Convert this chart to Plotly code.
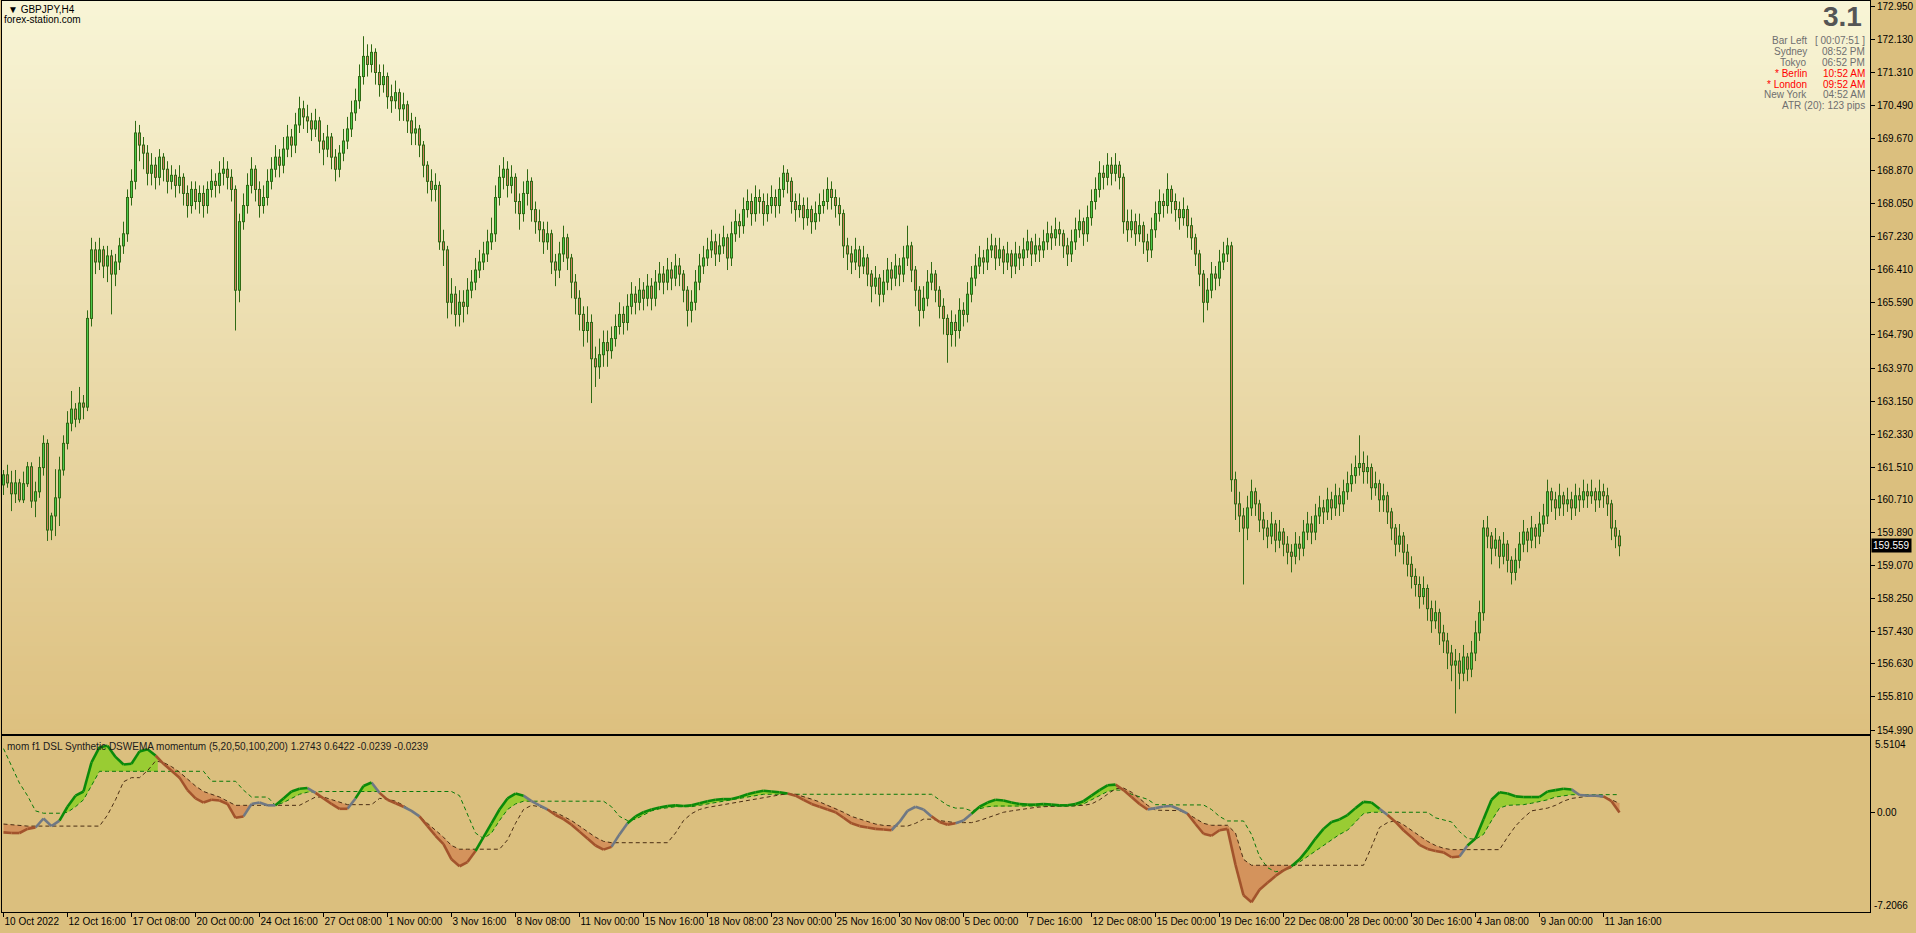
import plotly.graph_objects as go

# ---------------- data ----------------
tick_bar = [0, 16, 32, 48, 64, 80, 96, 112, 128, 144, 160, 176, 192, 208, 224,
            240, 256, 272, 288, 304, 320, 336, 352, 368, 384, 400]
tick_text = ["10 Oct 2022", "12 Oct 16:00", "17 Oct 08:00", "20 Oct 00:00", "24 Oct 16:00",
             "27 Oct 08:00", "1 Nov 00:00", "3 Nov 16:00", "8 Nov 08:00", "11 Nov 00:00",
             "15 Nov 16:00", "18 Nov 08:00", "23 Nov 00:00", "25 Nov 16:00", "30 Nov 08:00",
             "5 Dec 00:00", "7 Dec 16:00", "12 Dec 08:00", "15 Dec 00:00", "19 Dec 16:00",
             "22 Dec 08:00", "28 Dec 00:00", "30 Dec 16:00", "4 Jan 08:00", "9 Jan 00:00",
             "11 Jan 16:00"]

price_ticks = [172.95, 172.13, 171.31, 170.49, 169.67, 168.87, 168.05, 167.23, 166.41,
               165.59, 164.79, 163.97, 163.15, 162.33, 161.51, 160.71, 159.89, 159.07,
               158.25, 157.43, 156.63, 155.81, 154.99]
last_price = 159.559

first_open = 161.07
closes = [
    161.32, 161.12, 160.85, 161.12, 160.70, 161.10, 161.52, 160.67, 160.90, 161.50,
    162.10, 159.95, 160.30, 160.75, 161.44, 162.10, 162.60, 162.95, 162.70, 163.10,
    163.00, 165.20, 166.90, 166.60, 166.90, 166.50, 166.75, 166.30, 166.60, 167.00,
    167.30, 168.20, 168.60, 169.80, 169.50, 169.30, 168.80, 169.00, 168.70, 169.20,
    168.90, 168.60, 168.75, 168.50, 168.70, 168.30, 168.00, 168.40, 168.10, 168.30,
    168.00, 168.40, 168.60, 168.50, 168.80, 168.90, 168.70, 168.40, 165.90, 167.60,
    168.00, 168.50, 168.90, 168.40, 168.00, 168.20, 168.60, 168.90, 169.20, 169.00,
    169.40, 169.70, 169.50, 170.00, 170.40, 170.20, 170.10, 169.90, 170.10, 169.60,
    169.40, 169.70, 169.20, 168.90, 169.30, 169.60, 169.90, 170.30, 170.60, 171.20,
    171.70, 171.50, 171.80, 171.30, 171.00, 171.20, 170.70, 170.60, 170.80, 170.40,
    170.50, 170.10, 169.80, 169.90, 169.50, 169.00, 168.60, 168.40, 168.50, 167.10,
    166.90, 165.60, 165.80, 165.30, 165.60, 165.50, 165.90, 166.10, 166.40, 166.60,
    166.80, 167.10, 167.30, 168.20, 168.70, 168.90, 168.50, 168.70, 168.10, 167.80,
    168.30, 168.60, 167.90, 167.60, 167.40, 167.10, 167.30, 166.60, 166.40, 166.80,
    167.20, 166.70, 166.10, 165.70, 165.30, 164.90, 165.10, 164.20, 164.00, 164.30,
    164.60, 164.40, 164.70, 165.00, 165.30, 165.10, 165.50, 165.80, 165.60, 165.90,
    165.70, 166.00, 165.70, 166.10, 166.30, 166.10, 166.40, 166.20, 166.50, 166.30,
    165.90, 165.40, 165.60, 166.10, 166.50, 166.70, 166.90, 167.10, 166.80, 167.00,
    167.20, 166.70, 167.30, 167.60, 167.50, 167.90, 168.10, 167.80, 168.20, 168.10,
    167.80, 168.00, 168.20, 168.00, 168.40, 168.80, 168.60, 168.10, 167.90, 168.00,
    167.70, 167.90, 167.60, 167.80, 168.00, 168.10, 168.40, 168.20, 168.00, 167.80,
    167.00, 166.80, 166.60, 166.90, 166.50, 166.70, 166.30, 166.00, 166.20, 165.80,
    166.10, 166.40, 166.20, 166.50, 166.30, 166.70, 167.00, 166.40, 165.90, 165.40,
    165.70, 166.10, 166.30, 165.90, 165.50, 165.20, 164.80, 165.10, 164.90, 165.40,
    165.30, 165.80, 166.20, 166.50, 166.70, 166.60, 166.90, 167.00, 166.70, 166.90,
    166.60, 166.80, 166.50, 166.80, 166.70, 166.90, 167.10, 166.80, 167.00, 166.90,
    167.10, 167.30, 167.20, 167.40, 167.30, 167.00, 166.80, 167.10, 167.40, 167.60,
    167.30, 167.70, 168.10, 168.40, 168.80, 168.70, 169.00, 168.80, 169.00, 168.70,
    167.60, 167.40, 167.60, 167.30, 167.50, 167.10, 166.90, 167.40, 167.80, 168.10,
    168.00, 168.40, 168.10, 167.90, 167.70, 167.90, 167.50, 167.20, 166.80, 166.30,
    165.60, 165.90, 166.30, 166.20, 166.60, 166.80, 167.00, 161.20, 160.60, 160.30,
    160.00, 160.50, 160.90, 160.60, 160.20, 160.00, 159.80, 160.10, 159.70, 159.90,
    159.60, 159.40, 159.30, 159.60, 159.50, 159.90, 160.10, 159.90, 160.30, 160.50,
    160.40, 160.70, 160.50, 160.80, 160.60, 160.90, 161.10, 161.30, 161.50, 161.60,
    161.40, 161.50, 161.00, 161.10, 160.70, 160.80, 160.40, 160.00, 159.60, 159.80,
    159.40, 159.10, 158.80, 158.60, 158.30, 158.50, 158.00, 157.70, 157.90, 157.40,
    157.20, 156.90, 156.60, 156.70, 156.40, 156.80, 156.50, 156.90, 157.40, 157.90,
    160.00, 159.80, 159.50, 159.70, 159.30, 159.60, 159.20, 158.90, 159.20, 159.60,
    159.90, 159.70, 160.00, 159.80, 160.10, 160.30, 160.90, 160.70, 160.50, 160.80,
    160.60, 160.70, 160.50, 160.80, 160.70, 160.90, 160.80, 160.90, 160.70, 160.90,
    160.80, 160.60, 160.00, 159.80, 159.56]
highs = [
    161.44, 161.57, 161.42, 161.44, 161.22, 161.40, 161.64, 161.63, 161.15, 161.77,
    162.30, 162.20, 160.38, 161.46, 161.77, 162.30, 162.90, 163.40, 163.10, 163.50,
    163.30, 165.40, 167.20, 167.10, 167.20, 167.00, 167.00, 166.90, 166.80, 167.20,
    167.60, 168.40, 168.90, 170.10, 170.00, 169.70, 169.50, 169.30, 169.20, 169.40,
    169.30, 169.10, 169.00, 168.90, 169.00, 168.80, 168.50, 168.60, 168.60, 168.50,
    168.50, 168.60, 168.90, 168.80, 169.10, 169.20, 169.10, 168.90, 168.50, 167.80,
    168.30, 168.80, 169.20, 169.00, 168.60, 168.50, 168.90, 169.20, 169.50, 169.40,
    169.70, 170.00, 169.90, 170.30, 170.70, 170.60, 170.50, 170.30, 170.40, 170.20,
    169.80, 170.00, 169.80, 169.40, 169.50, 169.90, 170.20, 170.60, 170.90, 171.50,
    172.20, 172.00, 172.00, 171.90, 171.50, 171.50, 171.30, 171.00, 171.10, 170.90,
    170.80, 170.60, 170.30, 170.20, 170.00, 169.60, 169.10, 168.90, 168.80, 168.60,
    167.40, 167.00, 166.20, 166.00, 165.90, 165.90, 166.20, 166.40, 166.70, 166.90,
    167.10, 167.40, 167.70, 168.50, 169.00, 169.20, 169.10, 169.00, 168.80, 168.30,
    168.60, 168.90, 168.70, 168.10, 167.90, 167.60, 167.60, 167.40, 166.80, 167.10,
    167.50, 167.30, 166.80, 166.30, 165.90, 165.50, 165.50, 165.30, 164.50, 164.70,
    164.90, 164.90, 165.00, 165.30, 165.60, 165.50, 165.80, 166.10, 166.00, 166.20,
    166.10, 166.30, 166.20, 166.40, 166.60, 166.50, 166.70, 166.60, 166.80, 166.70,
    166.40, 166.00, 165.90, 166.40, 166.80, 167.00, 167.20, 167.40, 167.30, 167.30,
    167.50, 167.30, 167.60, 167.90, 167.80, 168.20, 168.40, 168.30, 168.50, 168.40,
    168.30, 168.30, 168.50, 168.40, 168.70, 169.00, 168.90, 168.70, 168.30, 168.30,
    168.20, 168.20, 168.00, 168.10, 168.30, 168.40, 168.70, 168.60, 168.40, 168.20,
    167.90, 167.20, 167.00, 167.20, 167.00, 167.00, 166.80, 166.40, 166.50, 166.30,
    166.40, 166.70, 166.60, 166.80, 166.70, 167.00, 167.50, 167.10, 166.50, 166.00,
    166.00, 166.40, 166.60, 166.40, 166.00, 165.70, 165.30, 165.40, 165.30, 165.70,
    165.60, 166.10, 166.50, 166.80, 167.00, 166.90, 167.20, 167.30, 167.20, 167.20,
    167.00, 167.10, 166.90, 167.10, 167.00, 167.20, 167.40, 167.20, 167.30, 167.20,
    167.40, 167.60, 167.50, 167.70, 167.60, 167.40, 167.20, 167.40, 167.70, 167.90,
    167.70, 168.00, 168.40, 168.70, 169.10, 169.00, 169.30, 169.20, 169.30, 169.10,
    168.80, 167.90, 167.90, 167.80, 167.80, 167.60, 167.30, 167.70, 168.10, 168.40,
    168.30, 168.80, 168.50, 168.30, 168.10, 168.20, 168.00, 167.70, 167.30, 166.90,
    166.40, 166.20, 166.60, 166.50, 166.90, 167.10, 167.20, 167.10, 161.40, 160.90,
    160.50, 160.80, 161.20, 161.00, 160.70, 160.40, 160.20, 160.40, 160.20, 160.20,
    160.00, 159.80, 159.60, 159.90, 159.80, 160.20, 160.40, 160.30, 160.60, 160.80,
    160.70, 161.00, 160.90, 161.10, 161.00, 161.20, 161.40, 161.60, 161.80, 162.30,
    161.90, 161.80, 161.60, 161.40, 161.20, 161.10, 160.90, 160.50, 160.10, 160.10,
    159.90, 159.60, 159.30, 159.00, 158.80, 158.80, 158.60, 158.20, 158.20, 158.00,
    157.60, 157.40, 157.10, 157.00, 156.90, 157.10, 156.90, 157.20, 157.70, 158.20,
    160.20, 160.30, 159.90, 160.00, 159.80, 159.90, 159.70, 159.30, 159.50, 159.90,
    160.20, 160.00, 160.30, 160.10, 160.40, 160.60, 161.20, 161.00, 160.90, 161.10,
    160.90, 161.00, 160.90, 161.10, 161.00, 161.20, 161.10, 161.20, 161.00, 161.20,
    161.10, 161.00, 160.70, 160.20, 159.95]
lows = [
    160.82, 161.00, 160.42, 160.62, 160.64, 160.62, 161.02, 160.50, 160.27, 160.75,
    161.30, 159.68, 159.70, 159.80, 160.05, 161.30, 161.95, 162.40, 162.50, 162.60,
    162.70, 162.90, 165.00, 166.30, 166.40, 166.20, 166.10, 165.30, 166.00, 166.40,
    166.80, 167.10, 168.00, 168.40, 169.10, 168.90, 168.50, 168.50, 168.40, 168.50,
    168.60, 168.30, 168.40, 168.20, 168.30, 168.00, 167.70, 167.80, 167.90, 167.80,
    167.70, 167.80, 168.20, 168.20, 168.30, 168.50, 168.40, 168.10, 164.90, 165.60,
    167.40, 167.80, 168.30, 168.10, 167.70, 167.80, 168.00, 168.40, 168.70, 168.70,
    168.80, 169.20, 169.20, 169.30, 169.80, 169.90, 169.80, 169.60, 169.70, 169.30,
    169.00, 169.20, 168.90, 168.60, 168.70, 169.10, 169.40, 169.70, 170.10, 170.40,
    171.00, 171.20, 171.30, 171.00, 170.70, 170.80, 170.40, 170.30, 170.40, 170.10,
    170.10, 169.80, 169.50, 169.50, 169.20, 168.70, 168.30, 168.10, 168.10, 166.90,
    166.50, 165.20, 165.30, 165.00, 165.00, 165.10, 165.30, 165.70, 165.90, 166.20,
    166.40, 166.60, 166.90, 167.10, 168.00, 168.40, 168.20, 168.30, 167.80, 167.40,
    167.60, 168.00, 167.60, 167.30, 167.10, 166.80, 166.90, 166.30, 166.00, 166.20,
    166.60, 166.40, 165.70, 165.30, 164.90, 164.50, 164.60, 163.10, 163.50, 163.70,
    164.00, 164.00, 164.20, 164.50, 164.80, 164.80, 164.90, 165.30, 165.30, 165.40,
    165.40, 165.50, 165.40, 165.50, 165.90, 165.80, 165.90, 165.90, 166.00, 166.00,
    165.60, 165.00, 165.10, 165.40, 165.90, 166.30, 166.50, 166.70, 166.50, 166.60,
    166.80, 166.40, 166.50, 167.10, 167.20, 167.30, 167.70, 167.50, 167.60, 167.80,
    167.50, 167.60, 167.80, 167.70, 167.80, 168.20, 168.30, 167.80, 167.60, 167.70,
    167.40, 167.50, 167.30, 167.40, 167.60, 167.80, 167.90, 167.90, 167.70, 167.50,
    166.70, 166.40, 166.30, 166.40, 166.20, 166.30, 166.00, 165.60, 165.80, 165.50,
    165.60, 165.90, 165.90, 166.00, 166.00, 166.10, 166.50, 166.10, 165.50, 165.00,
    165.20, 165.50, 165.90, 165.60, 165.20, 164.80, 164.10, 164.50, 164.50, 164.70,
    165.00, 165.10, 165.60, 166.00, 166.30, 166.30, 166.40, 166.70, 166.40, 166.50,
    166.30, 166.40, 166.20, 166.30, 166.40, 166.50, 166.70, 166.50, 166.60, 166.60,
    166.70, 166.90, 166.90, 167.00, 167.00, 166.70, 166.50, 166.60, 166.90, 167.20,
    167.00, 167.10, 167.50, 167.90, 168.20, 168.40, 168.50, 168.50, 168.60, 168.40,
    167.30, 167.10, 167.20, 167.00, 167.10, 166.80, 166.60, 166.70, 167.20, 167.60,
    167.70, 167.80, 167.80, 167.60, 167.40, 167.50, 167.20, 166.90, 166.50, 166.00,
    165.10, 165.40, 165.70, 165.90, 166.00, 166.40, 166.60, 160.90, 160.20, 159.90,
    158.60, 159.70, 160.30, 160.30, 159.90, 159.70, 159.50, 159.60, 159.40, 159.50,
    159.30, 159.10, 158.90, 159.10, 159.20, 159.30, 159.70, 159.60, 159.70, 160.10,
    160.10, 160.20, 160.20, 160.30, 160.30, 160.40, 160.70, 160.90, 161.10, 161.30,
    161.10, 161.10, 160.70, 160.80, 160.40, 160.40, 160.10, 159.70, 159.30, 159.40,
    159.10, 158.80, 158.50, 158.30, 158.00, 158.10, 157.70, 157.40, 157.50, 157.10,
    156.90, 156.50, 156.20, 155.40, 156.00, 156.20, 156.20, 156.30, 156.70, 157.20,
    157.70, 159.50, 159.10, 159.30, 159.00, 159.10, 158.90, 158.60, 158.70, 159.00,
    159.40, 159.40, 159.50, 159.50, 159.60, 159.90, 160.10, 160.40, 160.20, 160.30,
    160.30, 160.40, 160.20, 160.30, 160.40, 160.50, 160.50, 160.60, 160.40, 160.50,
    160.50, 160.30, 159.70, 159.50, 159.30]

# indicator, sampled every 2nd bar (bars 0,2,...,404)
mom_value = [
    -1.45, -1.5, -1.5, -1.2, -1.1, -0.45, -1.0, -0.6, 0.4, 1.2,
    1.5, 3.6, 4.7, 4.8, 4.0, 3.45, 3.5, 4.4, 4.55, 4.1,
    3.5, 3.0, 2.5, 1.6, 1.0, 0.7, 0.9, 0.85, 0.6, -0.4,
    -0.3, 0.6, 0.7, 0.5, 0.5, 1.0, 1.5, 1.7, 1.75, 1.4,
    1.0, 0.6, 0.25, 0.25, 1.0, 1.9, 2.15, 1.4, 0.9, 0.65,
    0.4, 0.1, -0.3, -1.0, -1.7, -2.3, -3.4, -3.9, -3.6, -2.8,
    -1.8, -0.8, 0.2, 1.0, 1.35, 1.2, 0.8, 0.5, 0.2, -0.2,
    -0.5, -0.9, -1.4, -1.9, -2.4, -2.7, -2.5, -1.6, -0.8, -0.3,
    0.0, 0.2, 0.35, 0.45, 0.5, 0.45, 0.5, 0.65, 0.8, 0.9,
    0.95, 0.95, 1.1, 1.3, 1.45, 1.55, 1.5, 1.45, 1.35, 1.2,
    0.9, 0.6, 0.4, 0.2, 0.0, -0.4, -0.8, -1.0, -1.1, -1.2,
    -1.25, -1.3, -0.7, 0.1, 0.4, 0.2, -0.3, -0.7, -0.9, -0.8,
    -0.6, -0.1, 0.4, 0.7, 0.9, 0.85, 0.7, 0.6, 0.55, 0.55,
    0.6, 0.55, 0.5, 0.5, 0.6, 0.8, 1.2, 1.6, 1.95, 2.0,
    1.6, 1.1, 0.6, 0.2, 0.3, 0.42, 0.45, 0.2, -0.1, -0.85,
    -1.55, -1.7, -1.3, -1.2, -3.8, -6.0, -6.5, -5.6, -5.1, -4.6,
    -4.2, -3.9, -3.4, -2.7, -1.9, -1.2, -0.7, -0.52, -0.2, 0.3,
    0.75, 0.7, 0.25, -0.2, -0.7, -1.3, -1.8, -2.35, -2.65, -2.8,
    -2.9, -3.25, -3.2, -2.4, -1.9, -0.5, 0.9, 1.45, 1.35, 1.15,
    1.1, 1.1, 1.1, 1.5, 1.6, 1.7, 1.65, 1.25, 1.2, 1.2,
    1.15, 0.8, -0.02]
level_up = [
    4.6, 3.3, 2.1, 1.2, 0.1, -0.07, -0.07, -0.07, 0.0, 0.4,
    0.9, 1.9, 2.96, 2.96, 2.96, 2.96, 2.96, 2.96, 2.96, 2.96,
    2.96, 2.96, 2.96, 2.96, 2.96, 2.96, 2.24, 2.24, 2.24, 2.24,
    1.6, 1.1, 1.1, 1.1, 0.5, 0.7, 1.0, 1.3, 1.45, 1.5,
    1.5, 1.5, 1.5, 1.5, 1.5, 1.5, 1.5, 1.5, 1.5, 1.5,
    1.5, 1.5, 1.5, 1.5, 1.5, 1.5, 1.5, 1.2, -0.2, -1.5,
    -1.9, -1.5, -0.6, 0.2, 0.6, 0.8, 0.8, 0.8, 0.8, 0.8,
    0.8, 0.8, 0.8, 0.8, 0.8, 0.8, 0.4, -0.3, -0.6, -0.5,
    -0.2, 0.1, 0.25, 0.35, 0.4, 0.4, 0.4, 0.5, 0.6, 0.7,
    0.8, 0.85, 0.95, 1.1, 1.2, 1.3, 1.3, 1.3, 1.3, 1.3,
    1.3, 1.3, 1.3, 1.3, 1.3, 1.3, 1.3, 1.3, 1.3, 1.3,
    1.3, 1.3, 1.3, 1.3, 1.3, 1.3, 1.3, 0.9, 0.5, 0.3,
    0.3, 0.1, 0.25, 0.4, 0.45, 0.45, 0.45, 0.45, 0.45, 0.45,
    0.45, 0.45, 0.45, 0.45, 0.45, 0.6, 0.9, 1.2, 1.5, 1.6,
    1.6, 1.3, 1.1, 0.94, 0.55, 0.53, 0.53, 0.53, 0.53, 0.53,
    0.53, 0.2, -0.3, -0.63, -0.63, -0.63, -1.6, -3.2, -4.0, -4.3,
    -4.2, -4.0, -3.6, -3.2, -2.8, -2.4, -2.0, -1.6, -1.3, -0.7,
    -0.1, 0.0, 0.0, 0.0, 0.0, 0.0, 0.0, 0.0, 0.0, -0.4,
    -0.55, -0.7, -1.4, -1.9, -1.95, -1.6, -0.6, 0.3, 0.5, 0.5,
    0.55, 0.65, 0.75, 0.9, 1.1, 1.2, 1.27, 1.27, 1.27, 1.27,
    1.27, 1.27, 1.2743]
level_dn = [
    -0.85, -0.9, -1.0, -1.0, -1.0, -1.0, -1.0, -1.0, -1.0, -1.0,
    -1.0, -1.0, -1.0, -0.2, 0.9, 2.2, 2.5, 2.5, 3.0, 3.7,
    3.6, 3.3, 2.9, 2.4, 1.9, 1.5, 1.3, 1.1, 0.8, 0.5,
    0.5, 0.5, 0.5, 0.5, 0.5, 0.5, 0.5, 0.5, 0.8, 1.1,
    1.1, 0.9, 0.7, 0.55, 0.55, 0.55, 0.55, 1.0, 0.95, 0.8,
    0.5, 0.1, -0.3, -0.8, -1.3, -1.8, -2.4, -2.67, -2.67, -2.67,
    -2.67, -2.67, -2.67, -2.0, -0.8, 0.2, 0.5, 0.4, 0.2, 0.0,
    -0.3, -0.6, -1.0, -1.4, -1.8, -2.1, -2.2, -2.2, -2.2, -2.2,
    -2.2, -2.2, -2.2, -2.2, -1.5, -0.6, -0.1, 0.2, 0.35, 0.45,
    0.6, 0.7, 0.8, 0.9, 1.0, 1.1, 1.2, 1.3, 1.35, 1.3,
    1.15, 0.95, 0.75, 0.5, 0.3, 0.0, -0.3, -0.5, -0.7, -0.85,
    -0.95, -1.0, -1.0, -1.0, -0.8, -0.5, -0.5, -0.6, -0.7, -0.75,
    -0.75, -0.75, -0.6, -0.4, -0.2, 0.0, 0.1, 0.2, 0.3, 0.35,
    0.4, 0.45, 0.45, 0.45, 0.45, 0.5, 0.6, 0.9, 1.3, 1.7,
    1.75, 1.45, 1.0, 0.5, 0.15, 0.15, 0.15, 0.12, -0.1, -0.45,
    -0.8, -0.94, -0.94, -0.94, -1.5, -3.4, -3.83, -3.83, -3.83, -3.83,
    -3.83, -3.83, -3.83, -3.83, -3.83, -3.83, -3.83, -3.83, -3.83, -3.83,
    -3.83, -2.5, -1.1, -0.75, -0.6, -0.9, -1.3, -1.7, -2.1, -2.4,
    -2.6, -2.7, -2.7, -2.7, -2.7, -2.7, -2.7, -2.7, -1.8, -1.0,
    -0.4, 0.1, 0.2, 0.3, 0.5, 0.8, 1.0, 1.1, 1.15, 1.15,
    1.1, 0.9, 0.6422]
ind_label = "mom f1 DSL Synthetic DSWEMA momentum (5,20,50,100,200) 1.2743 0.6422 -0.0239 -0.0239"
ind_max, ind_min = 5.5104, -7.2066

info_rows = [("Bar Left", "[ 00:07:51 ]", "#6f6f6f"), ("Sydney", "08:52 PM", "#6f6f6f"),
             ("Tokyo", "06:52 PM", "#6f6f6f"), ("* Berlin", "10:52 AM", "#ff0000"),
             ("* London", "09:52 AM", "#ff0000"), ("New York", "04:52 AM", "#6f6f6f")]

n = len(closes)
assert len(highs) == n and len(lows) == n
opens = [first_open] + closes[:-1]
bars = list(range(n))
ind_x = list(range(0, n, 2))
assert len(mom_value) == len(ind_x) == len(level_up) == len(level_dn)

# ---------------- geometry / style ----------------
W, H = 1916, 933
PL, PR, PT, PB = 2, 1870, 1, 912
MAIN_BOTTOM, SUB_TOP = 734, 736
FONT = "Liberation Sans, Arial, sans-serif"
TAN = "#dbbf7e"
WICK = "#2f6a14"
UP_FILL = "#4cc84a"
DN_FILL = "#d07c5c"
G_LINE, B_LINE, N_LINE = "#0a8a0a", "#a2532c", "#6f7884"
G_FILL, B_FILL = "#99cc33", "#d4935c"
UP_DASH, DN_DASH = "#0a7a0a", "#4a2e14"


def fx(px):
    return (px - PL) / (PR - PL)


def fy(py):
    return (PB - py) / (PB - PT)


x_per_bar = 4.0
x0_px = 3.5
x_range = [(PL - x0_px) / x_per_bar, (PR - x0_px) / x_per_bar]
px_per_price = (730 - 6) / (172.95 - 154.99)
y_range = [154.99 - (MAIN_BOTTOM - 730) / px_per_price, 172.95 + (6 - PT) / px_per_price]
one_px = 1.0 / px_per_price

fig = go.Figure()


def vsegs(idx, lo, hi):
    xs, ys = [], []
    for i in idx:
        xs += [i, i, None]
        ys += [lo[i], hi[i], None]
    return xs, ys


# ---- candles: wick, dark 3px body box, coloured 1px core ----
wx, wy = vsegs(bars, lows, highs)
fig.add_trace(go.Scatter(x=wx, y=wy, mode="lines", line=dict(color=WICK, width=1),
                         hoverinfo="skip", showlegend=False, xaxis="x", yaxis="y"))
body_lo = [min(opens[i], closes[i]) for i in bars]
body_hi = [max(opens[i], closes[i]) for i in bars]
box_lo = [body_lo[i] - 0.5 * one_px for i in bars]
box_hi = [max(body_hi[i], body_lo[i]) + 0.5 * one_px for i in bars]
bx_, by_ = vsegs(bars, box_lo, box_hi)
fig.add_trace(go.Scatter(x=bx_, y=by_, mode="lines", line=dict(color=WICK, width=3),
                         hoverinfo="skip", showlegend=False, xaxis="x", yaxis="y"))
core_lo = [body_lo[i] + 0.5 * one_px for i in bars]
core_hi = [body_hi[i] - 0.5 * one_px for i in bars]
for want_up, col in ((True, UP_FILL), (False, DN_FILL)):
    idx = [i for i in bars if (closes[i] >= opens[i]) == want_up and core_hi[i] > core_lo[i]]
    cx, cy = vsegs(idx, core_lo, core_hi)
    fig.add_trace(go.Scatter(x=cx, y=cy, mode="lines", line=dict(color=col, width=1),
                             hoverinfo="skip", showlegend=False, xaxis="x", yaxis="y"))

# ---- indicator ----
def state(v, u, d):
    if v < d:
        return -1
    if v > u:
        return 1
    return 0


def polys(margin, top, bot):
    out_x, out_y = [], []
    cur = None
    m = len(ind_x)

    def cross(i):
        t = margin[i - 1] / (margin[i - 1] - margin[i])
        xc = ind_x[i - 1] + t * (ind_x[i] - ind_x[i - 1])
        return (xc, top[i - 1] + t * (top[i] - top[i - 1]), bot[i - 1] + t * (bot[i] - bot[i - 1]))

    for i in range(m):
        if margin[i] > 0:
            if cur is None:
                cur = [cross(i)] if i > 0 else []
            cur.append((ind_x[i], top[i], bot[i]))
        elif cur is not None:
            cur.append(cross(i))
            out_x += [p[0] for p in cur] + [p[0] for p in reversed(cur)] + [None]
            out_y += [p[1] for p in cur] + [p[2] for p in reversed(cur)] + [None]
            cur = None
    if cur is not None:
        out_x += [p[0] for p in cur] + [p[0] for p in reversed(cur)] + [None]
        out_y += [p[1] for p in cur] + [p[2] for p in reversed(cur)] + [None]
    return out_x, out_y


g_margin = [min(v - u, v - d + 1e-9) if v >= d else -1 for v, u, d in zip(mom_value, level_up, level_dn)]
b_margin = [d - v for v, d in zip(mom_value, level_dn)]
gx, gy = polys(g_margin, mom_value, level_up)
bx, by = polys(b_margin, level_dn, mom_value)
fig.add_trace(go.Scatter(x=gx, y=gy, mode="lines", fill="toself", fillcolor=G_FILL,
                         line=dict(width=0), hoverinfo="skip", showlegend=False,
                         xaxis="x2", yaxis="y2"))
fig.add_trace(go.Scatter(x=bx, y=by, mode="lines", fill="toself", fillcolor=B_FILL,
                         line=dict(width=0), hoverinfo="skip", showlegend=False,
                         xaxis="x2", yaxis="y2"))
fig.add_trace(go.Scatter(x=ind_x, y=level_up, mode="lines",
                         line=dict(color=UP_DASH, width=1, dash="4px,3px"),
                         hoverinfo="skip", showlegend=False, xaxis="x2", yaxis="y2"))
fig.add_trace(go.Scatter(x=ind_x, y=level_dn, mode="lines",
                         line=dict(color=DN_DASH, width=1, dash="4px,3px"),
                         hoverinfo="skip", showlegend=False, xaxis="x2", yaxis="y2"))

seg = {1: ([], []), -1: ([], []), 0: ([], [])}
for i in range(1, len(ind_x)):
    s = state(mom_value[i], level_up[i], level_dn[i])
    seg[s][0].extend([ind_x[i - 1], ind_x[i], None])
    seg[s][1].extend([mom_value[i - 1], mom_value[i], None])
for s, col in ((0, N_LINE), (-1, B_LINE), (1, G_LINE)):
    fig.add_trace(go.Scatter(x=seg[s][0], y=seg[s][1], mode="lines",
                             line=dict(color=col, width=2.6),
                             hoverinfo="skip", showlegend=False, xaxis="x2", yaxis="y2"))

# ---- background gradient in main panel ----
shapes = []
top_c, bot_c = (248, 245, 214), (221, 192, 127)
NB = 150
for k in range(NB):
    t = (k + 0.5) / NB
    c = tuple(round(bot_c[j] + (top_c[j] - bot_c[j]) * t) for j in range(3))
    shapes.append(dict(type="rect", xref="x domain", yref="y domain", x0=0, x1=1,
                       y0=k / NB, y1=min(1, (k + 1) / NB + 0.003),
                       fillcolor="rgb(%d,%d,%d)" % c, line=dict(width=0), layer="below"))

# ---- annotations ----
def text_at(px_, py_, txt, anchor, size=10, color="#000000", **kw):
    return dict(x=fx(px_), y=fy(py_), xref="paper", yref="paper", text=txt,
                showarrow=False, xanchor=anchor, yanchor="middle",
                font=dict(family=FONT, size=size, color=color), **kw)


ann = [text_at(6, 10, "▼ GBPJPY,H4", "left"),
       text_at(2, 19, "forex-station.com", "left"),
       text_at(1864, 17, "<b>3.1</b>", "right", size=28, color="#555555")]
for k, (lab, val, col) in enumerate(info_rows):
    yy = 40 + k * 11
    ann.append(text_at(1809, yy, lab, "right", color=col))
    ann.append(text_at(1867, yy, val, "right", color=col))
ann.append(text_at(1867, 106, "ATR (20): 123 pips", "right", color="#6f6f6f"))
ann.append(text_at(5, 746, ind_label, "left", color="#1a1a1a"))
ann.append(text_at(1873, 744, "%.4f" % ind_max, "left"))
ann.append(text_at(1872, 905, "%.4f" % ind_min, "left"))
ann.append(dict(x=fx(1871), y=last_price, xref="paper", yref="y", text="%.3f" % last_price,
                showarrow=False, xanchor="left", yanchor="middle", bgcolor="#000000",
                borderpad=1, font=dict(family=FONT, size=10, color="#ffffff")))

axis_common = dict(showgrid=False, zeroline=False, showline=True, mirror=True,
                   linecolor="#000000", linewidth=1)

fig.update_layout(
    width=W, height=H,
    margin=dict(l=PL, r=W - PR, t=PT, b=H - PB, pad=0),
    paper_bgcolor=TAN, plot_bgcolor=TAN,
    showlegend=False,
    shapes=shapes, annotations=ann,
    xaxis=dict(domain=[0, 1], anchor="y", range=x_range, showticklabels=False,
               ticks="", **axis_common),
    yaxis=dict(domain=[fy(MAIN_BOTTOM), 1], anchor="x", range=y_range, side="right",
               tickvals=price_ticks, ticktext=["%.3f" % v for v in price_ticks],
               ticks="outside", ticklen=4, tickcolor="#000000", automargin=False,
               tickfont=dict(family=FONT, size=10, color="#000000"), **axis_common),
    xaxis2=dict(domain=[0, 1], anchor="y2", range=x_range, tickvals=tick_bar,
                ticktext=tick_text, ticks="outside", ticklen=4, tickcolor="#000000",
                ticklabelposition="outside right", tickangle=0, automargin=False,
                tickfont=dict(family=FONT, size=10, color="#000000"), **axis_common),
    yaxis2=dict(domain=[0, fy(SUB_TOP)], anchor="x2", range=[ind_min, ind_max], side="right",
                tickvals=[0], ticktext=["0.00"], ticks="outside", ticklen=4,
                tickcolor="#000000", automargin=False,
                tickfont=dict(family=FONT, size=10, color="#000000"), **axis_common),
)

fig.write_html("out.html", config={"displayModeBar": False},
               post_script="document.body.style.margin='0px';")
